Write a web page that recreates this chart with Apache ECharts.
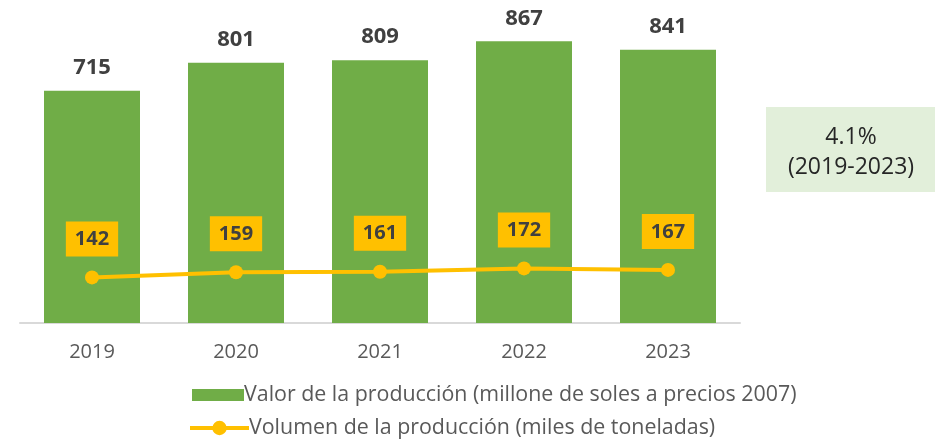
<!DOCTYPE html>
<html>
<head>
<meta charset="utf-8">
<script src="https://cdn.jsdelivr.net/npm/echarts@6/dist/echarts.min.js"></script>
<style>
  html, body { margin: 0; padding: 0; background: #fff; }
  #chart { width: 935px; height: 440px; }
</style>
</head>
<body>
<div id="chart"></div>
<script>
// datos del gráfico
var years = ['2019', '2020', '2021', '2022', '2023'];
var valorProduccion = [715, 801, 809, 867, 841];
var volumenProduccion = [142, 159, 161, 172, 167];
var valorName = 'Valor de la producción (millone de soles a precios 2007)';
var volumenName = 'Volumen de la producción (miles de toneladas)';
var tasaTexto = ['4.1%', '(2019-2023)'];

var chart = echarts.init(document.getElementById('chart'));

var legendText = { fontSize: 21.4, lineHeight: 24, color: '#595959', padding: [0, 0, 0, -5] };

chart.setOption({
  animation: false,
  textStyle: { fontFamily: 'Open Sans' },
  grid: { left: 20, width: 720, top: 3, height: 320 },
  legend: [
    {
      left: 187,
      top: 378,
      itemWidth: 52,
      itemHeight: 12,
      textStyle: legendText,
      data: [{ name: valorName, icon: 'rect' }]
    },
    {
      left: 183,
      top: 411,
      itemWidth: 59,
      itemHeight: 18,
      lineStyle: { width: 4 },
      textStyle: legendText,
      data: [{ name: volumenName }]
    }
  ],
  xAxis: {
    type: 'category',
    data: years,
    axisLine: { lineStyle: { color: '#D9D9D9', width: 2 } },
    axisTick: { show: false },
    axisLabel: { color: '#595959', fontSize: 20, margin: 19 }
  },
  yAxis: [
    { type: 'value', min: 0, max: 985, show: false, splitLine: { show: false } },
    { type: 'value', min: -10, max: 1057, show: false, splitLine: { show: false } }
  ],
  series: [
    {
      name: valorName,
      type: 'bar',
      data: valorProduccion,
      barWidth: 96,
      itemStyle: { color: '#70AD47' },
      label: {
        show: true,
        position: 'top',
        distance: 12,
        fontSize: 22,
        fontWeight: 'bold',
        color: '#404040'
      }
    },
    {
      name: volumenName,
      type: 'line',
      yAxisIndex: 1,
      data: volumenProduccion,
      symbol: 'circle',
      symbolSize: 14,
      lineStyle: { color: '#FFC000', width: 4 },
      itemStyle: { color: '#FFC000' },
      label: {
        show: true,
        position: 'top',
        distance: 14,
        fontSize: 20,
        fontWeight: 'bold',
        color: '#404040',
        backgroundColor: '#FFC000',
        padding: [8, 9, 7, 9]
      }
    }
  ],
  graphic: [
    {
      type: 'rect',
      left: 766, top: 107,
      shape: { width: 169, height: 85 },
      style: { fill: '#E2EFDA' }
    },
    {
      type: 'text',
      x: 851, y: 122,
      style: {
        text: tasaTexto.join('\n'),
        fontSize: 23,
        lineHeight: 30,
        fill: '#262626',
        align: 'center',
        fontFamily: 'Open Sans'
      }
    }
  ]
});
</script>
</body>
</html>
